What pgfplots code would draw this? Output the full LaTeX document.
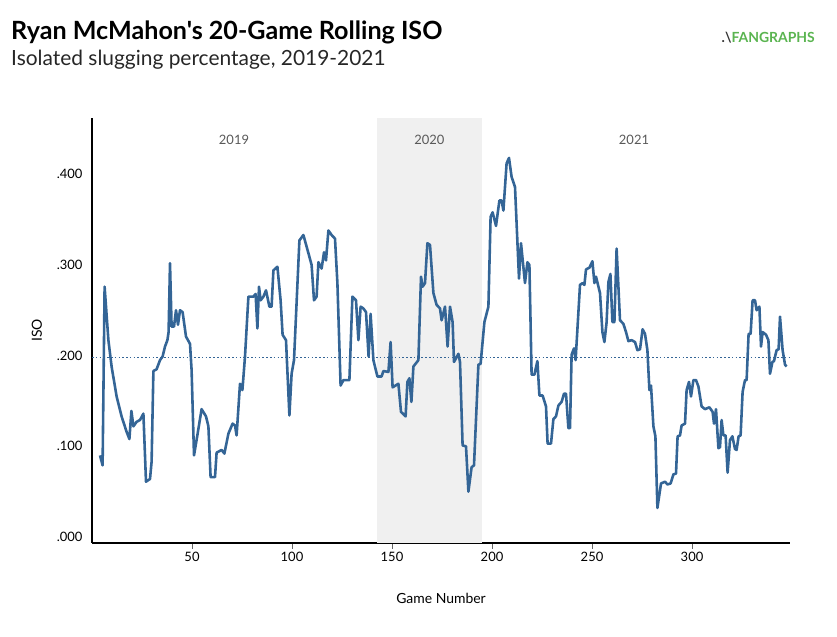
\documentclass[border=0pt]{standalone}
\usepackage{pgfplots}
\pgfplotsset{compat=1.18}
\usepackage{fontspec}
\setmainfont{Lato}
\newfontfamily\titlefont{Lato}[Ligatures=TeXOff]
\definecolor{isoblue}{RGB}{52,101,150}
\definecolor{fg}{RGB}{90,180,80}
\begin{document}
\begin{tikzpicture}
\path (0bp,0bp) rectangle (837bp,637bp);
\node[anchor=base west,font=\titlefont\fontsize{25.2}{27}\selectfont\bfseries,inner sep=0pt] at (11bp,597bp) {Ryan McMahon's 20-Game Rolling ISO};
\node[anchor=base west,font=\fontsize{21}{23}\selectfont,text=black!85,inner sep=0pt] at (11bp,571bp) {Isolated slugging percentage, 2019-2021};
\node[anchor=base east,font=\fontsize{14}{16}\selectfont\bfseries,text=fg,inner sep=0pt] at (815bp,594bp) {{\color{black!80}.\textbf{\char`\\}}FANGRAPHS};
\begin{axis}[at={(92bp,94bp)},anchor=south west,scale only axis,width=698bp,height=425bp,
  xmin=0,xmax=349,ymin=-0.0066,ymax=0.462,
  axis x line*=bottom, axis y line*=left,
  axis line style={black,line width=1.2pt},
  xtick={50,100,150,200,250,300},
  ytick={0,0.1,0.2,0.3,0.4},
  yticklabels={.000,.100,.200,.300,.400},
  y tick style={draw=none},
  x tick style={black!60,line width=0.8pt},
  major tick length=6bp,
  tick align=outside,
  ticklabel style={font=\fontsize{13}{14}\selectfont},
  /pgf/number format/assume math mode=true,
  xlabel={Game Number},ylabel={ISO},
  label style={font=\fontsize{14}{15}\selectfont},
  xlabel style={yshift=-24bp},
  ylabel style={yshift=8bp},
  clip=false]
\fill[black!6] (axis cs:142.5,-0.0066) rectangle (axis cs:195,0.462);
\node[text=black!65,font=\fontsize{13}{14}\selectfont] at (axis cs:71,0.438) {2019};
\node[text=black!65,font=\fontsize{13}{14}\selectfont] at (axis cs:168.7,0.438) {2020};
\node[text=black!65,font=\fontsize{13}{14}\selectfont] at (axis cs:271,0.438) {2021};
\addplot[draw=isoblue,line width=1.6pt,dash pattern=on 1.6pt off 2.2pt] coordinates {(0,0.198)(349,0.198)};
\addplot[draw=isoblue,line width=2.6pt,line join=round] coordinates {
(4,.090)(5.3,.079)(6.3,.276)(8.2,.217)(9.8,.188)(12.3,.155)(14.8,.133)(17.3,.116)(18.7,.108)(19.7,.139)(20.7,.122)(22.3,.127)(24,.129)(25.7,.136)(27,.061)(29,.064)(29.8,.083)(30.7,.183)(32.3,.185)(34,.195)(35.3,.199)(36.5,.210)(37.7,.217)(38.3,.226)(39,.302)(39.8,.232)(41,.232)(42,.250)(43,.234)(44,.250)(45.3,.248)(47,.221)(49,.213)(49.8,.184)(51,.090)(52.3,.107)(54.8,.141)(57,.133)(58.2,.122)(59.3,.066)(61.5,.066)(62.3,.093)(64.8,.096)(66.2,.092)(68.2,.114)(70.3,.125)(71.5,.123)(72.3,.112)(74,.169)(75.2,.162)(76.5,.199)(78.2,.265)(80.7,.265)(81.8,.268)(82.7,.230)(83.5,.276)(84.3,.261)(85.7,.265)(87,.272)(88.7,.254)(89.8,.254)(90.7,.294)(92.7,.298)(94.3,.261)(95.3,.223)(97,.217)(98.7,.134)(99.8,.180)(101,.195)(103.7,.327)(105.7,.333)(108.2,.313)(109.8,.300)(111,.261)(112.3,.265)(113.2,.303)(114.8,.296)(116,.314)(117,.305)(118.2,.338)(119.8,.333)(121.5,.329)(122.7,.280)(124.3,.167)(125.7,.173)(128.7,.173)(130.2,.265)(132,.261)(133.2,.217)(134.3,.254)(135.7,.252)(137,.248)(138.3,.199)(139.3,.246)(140.7,.195)(142.7,.177)(144.8,.177)(145.7,.183)(148.2,.182)(149.3,.215)(150.3,.165)(153.2,.169)(154.5,.138)(156.8,.133)(157.7,.171)(158.7,.175)(159.7,.149)(160.7,.188)(163.2,.195)(164.5,.287)(165.3,.276)(166.5,.280)(167.7,.324)(169,.322)(170.7,.269)(172.3,.256)(174,.252)(174.8,.239)(176.5,.254)(177.8,.210)(179,.254)(180.3,.237)(181,.193)(183.2,.202)(184,.193)(185.3,.101)(187,.100)(188.2,.050)(189.8,.077)(191,.079)(193.2,.190)(194.3,.191)(196.2,.237)(198.2,.254)(199.3,.353)(200.3,.358)(202,.343)(203.7,.371)(204.8,.371)(205.7,.360)(207.3,.412)(208.5,.418)(209.8,.397)(211.5,.386)(213.5,.285)(214.5,.324)(216.5,.280)(217.7,.303)(218.7,.300)(219.8,.179)(221.2,.179)(222.7,.194)(223.7,.156)(225.3,.156)(227,.144)(227.8,.103)(229.5,.103)(230.7,.130)(232,.133)(233.2,.145)(234.8,.149)(236,.158)(237,.158)(238.2,.120)(239,.120)(239.8,.201)(241,.208)(241.8,.195)(244,.278)(245.3,.280)(246.2,.278)(247,.295)(248.7,.297)(250.2,.304)(251.2,.280)(252,.287)(254,.269)(255.2,.226)(256.2,.215)(257.3,.237)(258.2,.281)(259.2,.290)(260.2,.237)(261.2,.237)(262.3,.318)(264,.239)(265.7,.235)(267,.226)(268.2,.216)(269.8,.217)(271.5,.215)(272.7,.206)(274,.207)(275.3,.229)(276.5,.224)(277.7,.206)(278.7,.162)(279.5,.167)(280.7,.122)(281.7,.111)(282.7,.032)(284.5,.059)(286.5,.061)(287.7,.058)(289.3,.059)(290.7,.069)(292,.070)(292.8,.111)(294,.112)(294.8,.123)(296.5,.125)(297.3,.162)(298.5,.171)(299.5,.155)(300.7,.173)(302,.173)(303.2,.166)(304.8,.144)(306.5,.141)(308.7,.143)(310.3,.138)(311,.125)(312,.141)(313.2,.098)(314,.099)(314.8,.129)(315.7,.112)(316.8,.112)(317.8,.071)(319,.107)(320.2,.111)(321.5,.097)(322.3,.096)(323.3,.111)(324.3,.112)(325.3,.160)(326.5,.173)(327.3,.173)(328.3,.224)(329.3,.224)(330.3,.261)(331.5,.261)(332.3,.250)(333.7,.254)(334.5,.210)(335.3,.226)(337,.223)(338.2,.217)(339,.180)(340.2,.193)(341,.194)(342.3,.206)(343.3,.207)(344,.243)(345.3,.206)(346.5,.190)(347.3,.188)};
\end{axis}
\end{tikzpicture}
\end{document}
